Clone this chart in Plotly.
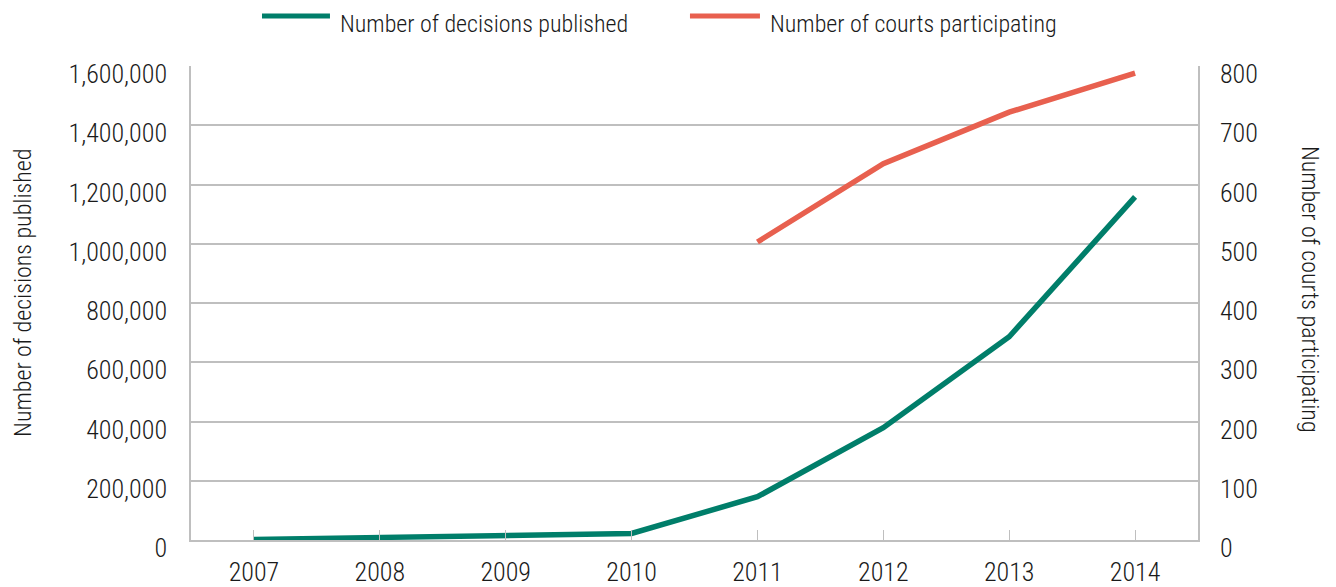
import plotly.graph_objects as go

years = [2007, 2008, 2009, 2010, 2011, 2012, 2013, 2014]
decisions = [2000, 9000, 15000, 22000, 146000, 379000, 686000, 1158000]
court_years = [2011, 2012, 2013, 2014]
courts = [503, 635, 722, 788]

left_ticks = [0, 200000, 400000, 600000, 800000, 1000000, 1200000, 1400000, 1600000]
right_ticks = [0, 100, 200, 300, 400, 500, 600, 700, 800]

GREEN = "#007E6A"
RED = "#E8604F"
GRID = "#BFBFBF"
FONT = "Roboto Condensed, Liberation Sans Narrow, DejaVu Sans Condensed, sans-serif"
TXT = "#1a1a1a"

fig = go.Figure()
fig.add_trace(go.Scatter(x=years, y=decisions, mode="lines", name="Number of decisions published",
                         line=dict(color=GREEN, width=5.5), showlegend=False))
fig.add_trace(go.Scatter(x=court_years, y=courts, mode="lines", name="Number of courts participating",
                         line=dict(color=RED, width=5.5), yaxis="y2", showlegend=False))

tickfont = dict(family=FONT, size=26, color=TXT, weight=300)

fig.update_layout(
    width=1328, height=579,
    margin=dict(l=183, r=138, t=58, b=47),
    paper_bgcolor="white", plot_bgcolor="white",
    font=dict(family=FONT, size=24, color=TXT, weight=300),
    xaxis=dict(range=[2006.5, 2014.5], tickvals=years, ticktext=[str(y) for y in years],
               ticks="inside", ticklen=10, tickcolor=GRID, tickwidth=1,
               showgrid=False, zeroline=False, showline=True, linecolor=GRID, linewidth=1.5,
               ticklabelstandoff=8, tickfont=tickfont, automargin=False),
    yaxis=dict(range=[0, 1600000], tickvals=left_ticks,
               ticktext=[f"{v:,}" for v in left_ticks],
               showgrid=True, gridcolor=GRID, gridwidth=1.5, zeroline=False,
               showline=True, linecolor=GRID, linewidth=1.5, ticks="", ticklabelstandoff=17,
               ticklabelshift=8, tickfont=tickfont, automargin=False),
    yaxis2=dict(range=[0, 800], tickvals=right_ticks, overlaying="y", side="right",
                showgrid=False, zeroline=False, showline=True, linecolor=GRID, linewidth=1.5,
                ticks="", ticklabelstandoff=15, ticklabelshift=8, tickfont=tickfont,
                automargin=False),
)

annotations = [
    dict(text="Number of decisions published", xref="paper", yref="paper", x=-0.167, y=0.521,
         textangle=-90, showarrow=False, xanchor="center", yanchor="middle",
         font=dict(size=24)),
    dict(text="Number of courts participating", xref="paper", yref="paper", x=1.111, y=0.528,
         textangle=90, showarrow=False, xanchor="center", yanchor="middle",
         font=dict(size=24)),
    dict(text="Number of decisions published", xref="paper", yref="paper", x=0.146, y=1.088,
         showarrow=False, xanchor="left", yanchor="middle", font=dict(size=24)),
    dict(text="Number of courts participating", xref="paper", yref="paper", x=0.573, y=1.088,
         showarrow=False, xanchor="left", yanchor="middle", font=dict(size=24)),
]
fig.update_layout(annotations=annotations)

shapes = [
    dict(type="line", xref="paper", yref="paper", x0=0.0705, x1=0.1380, y0=1.1054, y1=1.1054,
         line=dict(color=GREEN, width=5)),
    dict(type="line", xref="paper", yref="paper", x0=0.4955, x1=0.5650, y0=1.1054, y1=1.1054,
         line=dict(color=RED, width=5)),
]
fig.update_layout(shapes=shapes)

fig.write_html("out.html")
